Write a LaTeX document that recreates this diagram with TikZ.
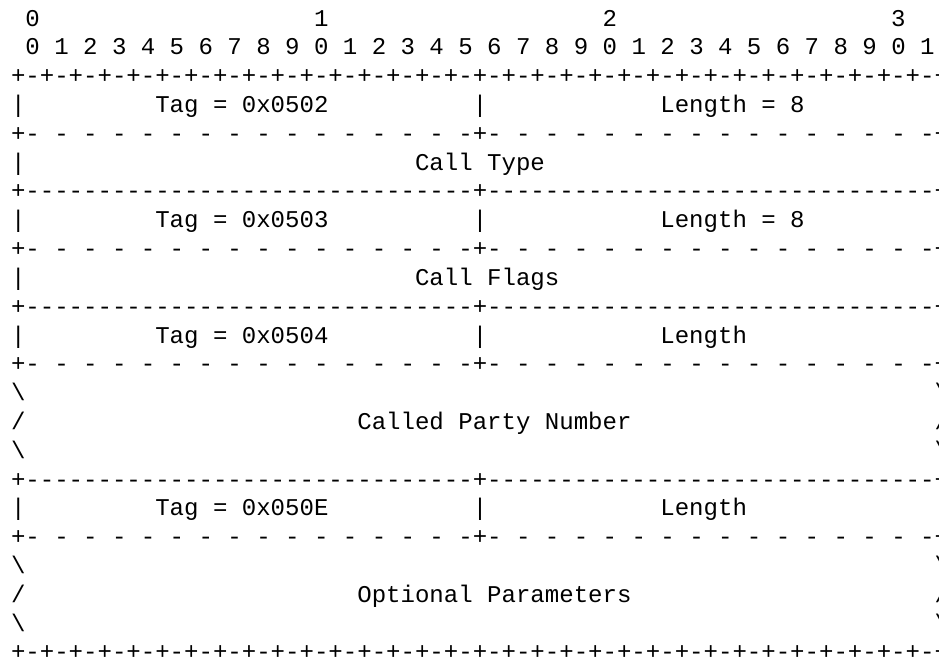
\documentclass[tikz,border=0pt]{standalone}
\usepackage{fontspec}
\setmonofont{Liberation Mono}
\newcommand\rulebits{+-+-+-+-+-+-+-+-+-+-+-+-+-+-+-+-+-+-+-+-+-+-+-+-+-+-+-+-+-+-+-+-+-+}
\newcommand\rulesolid{+-------------------------------+-------------------------------+}
\newcommand\ruledashed{+- - - - - - - - - - - - - - - -+- - - - - - - - - - - - - - - -+}

\begin{document}
\begin{tikzpicture}[x=14.43pt, y=-28.8pt, every node/.style={font=\ttfamily\fontsize{24.05pt}{28.8pt}\selectfont, inner sep=0pt, anchor=base west}]
\clip (0pt,0pt) rectangle (939pt,-660pt);
\begin{scope}[shift={(10.8pt,-26.2pt)}]
  % bit numbering
  \node (num0) at (1,0) {0};
  \node (num1) at (21,0) {1};
  \node (num2) at (41,0) {2};
  \node (num3) at (61,0) {3};
  \node (bitnums) at (1,1) {0 1 2 3 4 5 6 7 8 9 0 1 2 3 4 5 6 7 8 9 0 1 2 3 4 5 6 7 8 9 0 1};
  \node (ruletop) at (0,2) {\rulebits};

  % call type
  \node (barA0) at (0,3) {|};
  \node (tagA) at (10,3) {Tag = 0x0502};
  \node (barA1) at (32,3) {|};
  \node (lenA) at (45,3) {Length = 8};
  \node (barA2) at (64,3) {|};
  \node (sepA) at (0,4) {\ruledashed};
  \node (barB0) at (0,5) {|};
  \node (calltype) at (28,5) {Call Type};
  \node (barB1) at (64,5) {|};
  \node (ruleB) at (0,6) {\rulesolid};

  % call flags
  \node (barC0) at (0,7) {|};
  \node (tagC) at (10,7) {Tag = 0x0503};
  \node (barC1) at (32,7) {|};
  \node (lenC) at (45,7) {Length = 8};
  \node (barC2) at (64,7) {|};
  \node (sepC) at (0,8) {\ruledashed};
  \node (barD0) at (0,9) {|};
  \node (callflags) at (28,9) {Call Flags};
  \node (barD1) at (64,9) {|};
  \node (ruleD) at (0,10) {\rulesolid};

  % called party number
  \node (barE0) at (0,11) {|};
  \node (tagE) at (10,11) {Tag = 0x0504};
  \node (barE1) at (32,11) {|};
  \node (lenE) at (45,11) {Length};
  \node (barE2) at (64,11) {|};
  \node (sepE) at (0,12) {\ruledashed};
  \node (wrapF0) at (0,13) {\textbackslash};
  \node (wrapF1) at (64,13) {\textbackslash};
  \node (wrapG0) at (0,14) {/};
  \node (calledparty) at (24,14) {Called Party Number};
  \node (wrapG1) at (64,14) {/};
  \node (wrapH0) at (0,15) {\textbackslash};
  \node (wrapH1) at (64,15) {\textbackslash};
  \node (ruleH) at (0,16) {\rulesolid};

  % optional parameters
  \node (barI0) at (0,17) {|};
  \node (tagI) at (10,17) {Tag = 0x050E};
  \node (barI1) at (32,17) {|};
  \node (lenI) at (45,17) {Length};
  \node (barI2) at (64,17) {|};
  \node (sepI) at (0,18) {\ruledashed};
  \node (wrapJ0) at (0,19) {\textbackslash};
  \node (wrapJ1) at (64,19) {\textbackslash};
  \node (wrapK0) at (0,20) {/};
  \node (optparams) at (24,20) {Optional Parameters};
  \node (wrapK1) at (64,20) {/};
  \node (wrapL0) at (0,21) {\textbackslash};
  \node (wrapL1) at (64,21) {\textbackslash};
  \node (rulebottom) at (0,22) {\rulebits};
\end{scope}
\end{tikzpicture}
\end{document}
